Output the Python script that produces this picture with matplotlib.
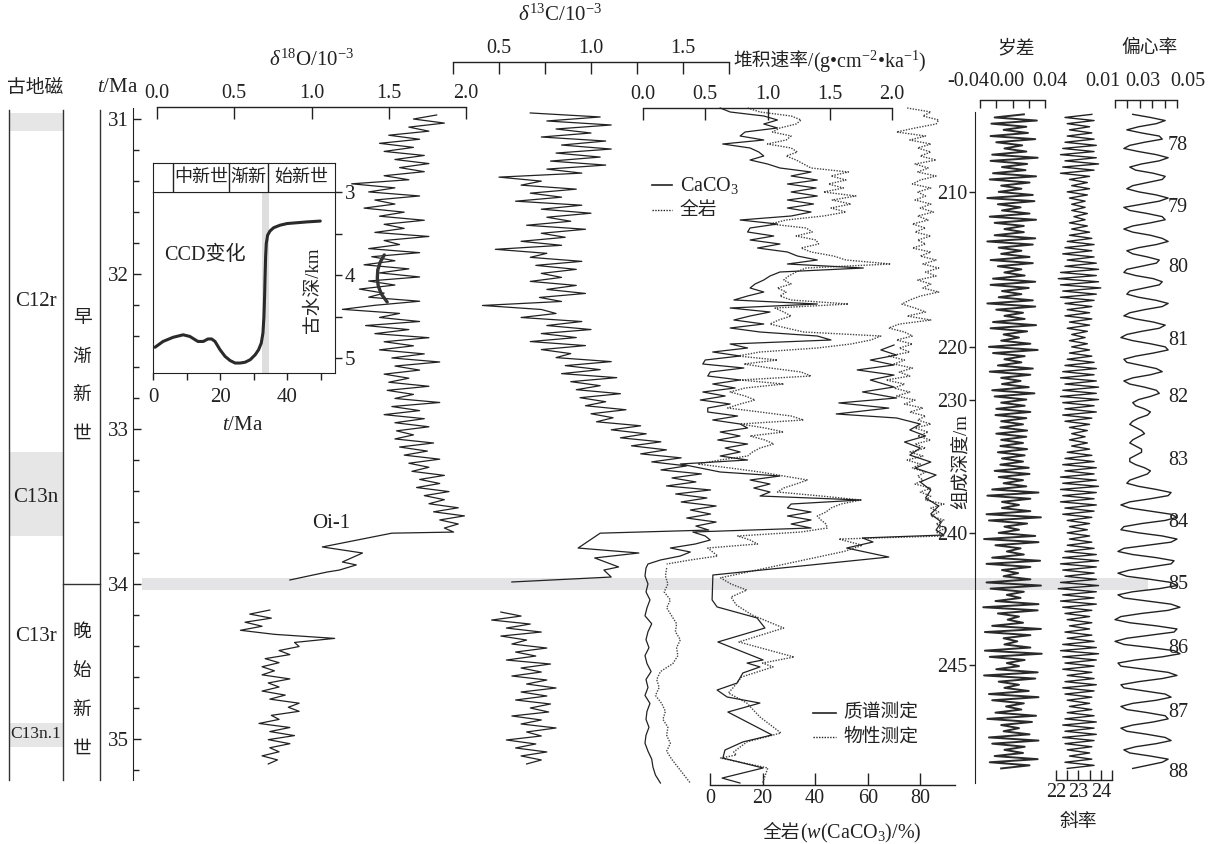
import numpy as np
import matplotlib.pyplot as plt
from matplotlib.lines import Line2D
from matplotlib.patches import Rectangle
from matplotlib.ticker import MultipleLocator

plt.rcParams['font.family'] = ['Liberation Serif', 'Noto Sans CJK SC']
plt.rcParams['mathtext.fontset'] = 'custom'
plt.rcParams['mathtext.rm'] = 'Liberation Serif'
plt.rcParams['mathtext.it'] = 'Liberation Serif:italic'
plt.rcParams['mathtext.bf'] = 'Liberation Serif:bold'
for k in ['text.color', 'axes.edgecolor', 'xtick.color', 'ytick.color']:
    plt.rcParams[k] = '#222222'

#%% DATA

# d18O (10^-3), Oligocene part, regular sampling + Oi-1 step, late Eocene part
d18o_top = [1.81,1.66,1.86,1.63,1.76,1.50,1.70,1.44,1.66,1.47,1.73,1.54,1.76,1.57,1.73,1.47,1.63,1.26,
            1.54,1.37,1.70,1.41,1.54,1.34,1.60,1.44,1.73,1.47,1.60,1.41,1.76,1.47,1.57,1.37,1.70,1.39,
            1.54,1.34,1.63,1.44,1.70,1.37,1.54,1.31,1.47,1.37,1.70,1.41,1.20,1.57,1.44,1.70,1.35,1.63,
            1.41,1.76,1.47,1.66,1.44,1.73,1.52,1.83,1.54,1.70,1.47,1.63,1.50,1.76,1.49,1.66,1.54,1.83,
            1.52,1.70,1.47,1.73,1.54,1.76,1.55,1.66,1.54,1.79,1.57,1.75,1.60,1.83,1.63,1.76,1.65,1.86,
            1.70,1.83,1.68,1.89,1.73,1.86,1.76,1.95,1.79,1.99,1.83,1.95,1.86,1.92]
d18o_top_age = (30.974, 33.665)
d18o_oi1_t = [33.672, 33.761, 33.80, 33.858, 33.877, 33.91, 33.923, 33.974]
d18o_oi1 = [1.52, 1.07, 1.33, 1.20, 1.29, 1.18, 1.10, 0.86]
d18o_low = [0.73,0.60,0.74,0.57,0.68,0.54,0.76,1.15,0.89,0.92,0.79,0.86,0.70,0.79,0.68,0.76,0.68,0.86,
            0.72,0.79,0.68,0.83,0.73,0.92,0.85,0.92,0.74,0.79,0.66,0.86,0.73,0.89,0.72,0.86,0.73,0.79,
            0.68,0.78,0.72]
d18o_low_age = (34.168, 35.161)

# d13C (10^-3)
d13c_top = [0.67,1.05,0.76,1.11,0.81,1.00,0.73,1.08,0.84,1.11,0.81,1.05,0.78,1.08,0.76,0.95,0.50,0.73,
            0.62,0.92,0.67,0.84,0.59,0.95,0.73,1.00,0.76,0.89,0.65,0.97,0.73,0.86,0.62,0.84,0.48,0.76,
            0.67,0.95,0.70,0.92,0.73,0.84,0.67,0.92,0.76,0.97,0.72,0.84,0.41,0.73,0.81,0.62,0.95,0.76,
            1.00,0.73,0.92,0.67,0.97,0.73,0.89,0.81,1.11,0.86,1.05,0.84,1.14,0.89,1.05,0.92,1.16,0.94,
            1.08,0.97,1.19,1.00,1.12,1.03,1.27,1.11,1.30,1.16,1.38,1.22,1.41,1.27,1.49,1.33,1.52,1.38,
            1.60,1.44,1.57,1.41,1.65,1.46,1.63,1.49,1.68,1.54,1.65,1.52,1.68,1.57,1.64]
d13c_top_age = (30.961, 33.652)
d13c_oi1_t = [33.672, 33.768, 33.80, 33.832, 33.89, 33.91, 33.955, 33.987]
d13c_oi1 = [1.05, 0.93, 1.26, 1.02, 1.15, 1.07, 1.11, 0.57]
d13c_low = [0.51,0.62,0.46,0.67,0.54,0.73,0.51,0.65,0.57,0.76,0.59,0.70,0.54,0.78,0.62,0.73,0.57,0.76,
            0.65,0.81,0.62,0.76,0.59,0.78,0.67,0.77,0.57,0.73,0.62,0.81,0.65,0.73,0.54,0.70,0.59,0.76,
            0.62,0.73,0.65]
d13c_low_age = (34.181, 35.161)

# mass accumulation rate (g cm-2 ka-1): CaCO3 and bulk
mar_caco3_top = [0.62,0.70,0.97,1.08,0.97,1.08,0.82,0.78,0.97,0.64,0.86,0.93,0.97,0.86,1.00,1.10,1.35,1.19,
                 1.40,1.16,1.39,1.19,1.40,1.16,1.37,1.16,1.35,1.19,0.78,1.08,0.86,0.84,1.05,0.86,1.10,0.92,
                 1.16,1.24,1.40,1.16,1.77,1.10,1.02,0.97,0.90,0.86,0.97,0.84,0.73,1.40,0.70,1.02,0.86,0.73,
                 0.97,0.70,0.94,1.40,1.51,0.70,0.84,0.56,0.78,0.50,0.48,0.81,0.54,0.52,0.78,0.56,0.74,0.48,
                 0.66,0.46,0.70,0.52,0.52,0.76,0.56,0.78,0.84,0.62,0.78,0.60,0.84,0.66,0.78,0.62,0.84,0.30,
                 0.46,0.62,1.10,0.86,1.02,0.89,1.02,0.94,1.75,1.19,1.16,1.35,1.16,1.35,1.19,1.35,0.40,0.50,
                 0.54,0.42,0.22,0.38,0.30,0.14,0.04]
mar_bulk_top = [0.84,0.94,1.19,1.27,1.23,1.10,1.04,1.19,1.15,1.00,1.19,1.24,1.15,1.23,1.29,1.35,1.65,1.51,
                1.63,1.49,1.61,1.45,1.71,1.52,1.67,1.51,1.63,1.45,1.15,1.02,1.31,1.36,1.23,1.39,1.41,1.27,
                1.35,1.53,1.63,1.99,1.31,1.23,1.17,1.13,1.19,1.08,1.15,1.10,1.19,1.65,1.06,1.13,1.19,1.09,
                1.02,1.15,1.29,1.91,1.83,1.67,1.40,0.94,0.76,1.08,0.81,1.02,1.27,1.35,0.78,1.13,0.82,0.70,
                0.82,0.90,0.78,0.68,0.94,1.19,1.29,0.78,0.98,1.13,0.86,0.98,1.05,0.94,0.88,0.84,0.62,0.44,
                0.70,0.94,1.13,1.32,1.23,1.13,1.08,1.43,1.75,1.59,1.51,1.47,1.40,1.43,1.47,1.48,1.27,0.76,
                0.86,0.92,0.52,0.56,0.60,0.38,0.19]
mar_top_age = (30.929, 33.871)
mar_caco3_low = [0.024,0.016,0.04,0.024,0.056,0.032,0.016,0.07,0.04,0.024,0.048,0.016,0.032,0.065,0.024,
                 0.04,0.016,0.056,0.032,0.024,0.048,0.024,0.016,0.04,0.07,0.08,0.10,0.14]
mar_bulk_low = [0.19,0.18,0.20,0.17,0.22,0.19,0.23,0.27,0.26,0.30,0.27,0.28,0.24,0.14,0.11,0.13,0.10,0.15,
                0.18,0.16,0.20,0.19,0.22,0.19,0.23,0.28,0.33,0.38]
mar_low_age = (33.897, 35.284)

# bulk CaCO3 content (%): physical-property estimate (dotted) and mass-spec (solid)
caco3_phys_top = [75,84,81,87,86,78,71,82,76,84,79,84,80,86,78,83,79,86,80,77,84,79,82,78,84,80,85,79,83,77,
                  82,78,84,79,82,77,84,80,86,81,87,82,86,79,84,81,87,80,76,73,78,82,75,84,72,68,74,77,71,77,
                  72,76,68,74,70,77,72,76,67,74,70,76,71,78,74,81,76,82,79,84,78,83,79,84,78,82,76,81,75,80,
                  77,82,79,81,78,84,80,84,82,89,84,87,84,89,86,90,86]
caco3_phys_top_age = (30.929, 33.665)
caco3_phys_t = [33.69,33.71,33.75,33.79,33.96,34.00,34.039,34.084,34.135,34.20,34.284,34.374,34.471,34.51,
                34.535,34.60,34.665,34.703,34.768,34.858,34.961,35.019,35.084,35.103,35.123,35.187,35.284]
caco3_phys = [89,49,58,51,4,8,14,8,10,16,28,11,32,20,24,12,9,7,14,19,27,14,9,10,4,22,20]
caco3_ms_t = [32.458,32.490,32.523,32.555,32.587,32.619,32.652,32.684,32.729,32.761,32.800,32.832,32.865,
              32.903,32.929,32.968,33.006,33.045,33.084,33.123,33.168,33.213,33.252,33.297,33.342,33.394,
              33.445,33.497,33.548,33.600,33.652,33.684,33.703,33.729,33.768,33.826,33.942,34.103,34.148,
              34.219,34.284,34.374,34.490,34.510,34.535,34.574,34.639,34.684,34.729,34.768,34.826,34.974,
              35.019,35.071,35.123,35.187,35.252,35.284]
caco3_ms = [70,65,71,61,70,56,70,61,70,58,71,49,68,48,71,80,76,82,74,80,76,84,78,86,80,84,82,87,84,88,
            86,89,58,62,52,68,1.1,0.8,2.7,17.9,20.9,3.0,20.2,14.1,19.0,12.5,10.3,2.7,6.5,19.0,6.8,23.6,
            12.5,5.7,4.9,20.2,4.6,11.4]

# orbital solutions, sampled every 20 ka from 30.97 Ma
orb_t0, orb_dt = 30.97, 0.02
prec_milli = [14,-22,30,-26,17,-11,19,-27,28,-20,12,-10,17,-25,31,-27,18,-13,16,-24,29,-28,21,-14,11,
              -17,25,-31,27,-18,10,-13,21,-28,29,-22,14,-10,14,-22,28,-31,25,-17,11,-14,21,-27,25,-18,
              11,-10,15,-24,28,-27,20,-13,11,-17,25,-31,28,-20,13,-10,15,-24,29,-27,18,-11,8,-14,22,
              -29,31,-24,15,-10,11,-18,25,-28,22,-14,10,-13,20,-25,27,-22,17,-14,15,-20,22,-21,17,-14,
              13,-15,18,-20,17,-14,13,-15,18,-18,15,-13,13,-15,20,-22,21,-17,13,-11,17,-25,32,-31,22,
              -13,8,-13,22,-32,35,-29,18,-10,8,-17,28,-35,32,-21,10,-7,14,-25,34,-32,22,-13,7,-11,
              22,-32,35,-27,14,-7,10,-21,32,-36,31,-18,8,-6,13,-25,35,-34,22,-11,6,-10,22,-34,36,
              -28,15,-7,8,-20,31,-35,28,-17,8,-10,20,-29,32,-25,14,-8,11,-21,29,-31,24,-14,8,-11,
              21,-29,32,-25,15,-10,13,-22,31,-28,21,-14]
obl_x10 = [236,224,237,225,235,226,236,225,237,224,238,223,237,222,238,224,239,223,237,222,
           235,226,234,227,235,225,234,226,233,227,233,227,234,228,233,226,234,227,235,226,
           236,225,237,224,236,223,237,225,238,224,239,222,238,221,239,222,240,223,238,222,
           237,224,236,225,235,224,236,226,235,225,234,227,233,226,234,227,235,226,236,225,
           237,224,238,223,237,222,238,224,239,223,238,222,239,223,237,224,238,223,236,224,
           235,226,234,227,233,226,234,227,235,225,236,224,237,223,238,224,237,222,238,223,
           239,222,238,223,237,222,238,224,237,223,236,225,235,226,234,225,235,226,236,225,
           237,224,238,223,239,222,238,223,237,224,238,222,239,221,238,223,237,222,238,223,
           236,224,235,225,236,226,235,224,236,225,237,223,238,222,239,223,238,224,237,223,
           236,225,237,224,238,223,237,224,236,225,235,226,236,225,237,224,238,223,237,224,
           238,223,237,224,236,225,235,226,236,224,237,225]
ecc_milli = [20,32,42,36,24,16,26,38,40,28,18,14,24,36,44,38,26,18,22,34,42,40,30,20,16,
             24,36,44,38,26,14,18,30,40,42,32,20,14,20,32,40,44,36,24,16,20,30,38,36,26,
             16,14,22,34,40,38,28,18,16,24,36,44,40,28,18,14,22,34,42,38,26,16,12,20,32,
             42,44,34,22,14,16,26,36,40,32,20,14,18,28,36,38,32,24,20,22,28,32,30,24,20,
             18,22,26,28,24,20,18,22,26,26,22,18,18,22,28,32,30,24,18,16,24,36,46,44,32,
             18,12,18,32,46,50,42,26,14,12,24,40,50,46,30,14,10,20,36,48,46,32,18,10,16,
             32,46,50,38,20,10,14,30,46,52,44,26,12,8,18,36,50,48,32,16,8,14,32,48,52,
             40,22,10,12,28,44,50,40,24,12,14,28,42,46,36,20,12,16,30,42,44,34,20,12,16,
             30,42,46,36,22,14,18,32,44,40,30,20]
ecc_cycle = [78, 79, 80, 81, 82, 83, 84, 85, 86, 87, 88]
ecc_cycle_age = [31.168, 31.568, 31.961, 32.426, 32.794, 33.20, 33.606, 34.006, 34.413, 34.832, 35.213]

# composite depth (m) tie points on the age axis
depth_m = [210, 220, 230, 240, 245]
depth_age = [31.471, 32.471, 32.813, 33.671, 34.523]

# magnetostratigraphy / epochs
chron_gray = [(30.96, 31.08), (33.15, 33.69), (34.90, 35.05)]
chron_names = ['C12r', 'C13n', 'C13r', 'C13n.1']
chron_label_age = [32.18, 33.44, 34.34, 34.97]
epoch_names = ['早渐新世', '晚始新世']
epoch_center_age = [32.66, 34.69]
eo_boundary = 34.0
oi1_band = (33.96, 34.04)

# inset: Cenozoic CCD history
ccd_t = [0.6, 3, 6, 9, 11, 13.4, 15, 16.4, 17.5, 18.5, 20, 21.5, 23, 24.5, 26, 27.5, 29, 30.5, 31.5,
         32.3, 32.8, 33.1, 33.3, 33.45, 33.6, 33.8, 34.2, 34.9, 36, 37.9, 40, 43, 46, 49.9]
ccd_depth = [4.87, 4.80, 4.75, 4.72, 4.74, 4.80, 4.80, 4.77, 4.77, 4.80, 4.90, 4.98, 5.03, 5.06, 5.06,
             5.05, 5.02, 4.96, 4.90, 4.82, 4.70, 4.50, 4.25, 4.00, 3.78, 3.62, 3.52, 3.47, 3.43, 3.40,
             3.38, 3.37, 3.36, 3.35]
inset_epoch_bounds = [5.9, 22.7, 34.3]
inset_epoch_names = ['中新世', '渐新', '始新世']
inset_epoch_mid = [14.3, 28.5, 44.3]
inset_band = (32.5, 34.6)
arc_d18o = [1.471, 1.445, 1.429, 1.426, 1.432, 1.452, 1.490]
arc_age = [31.877, 31.923, 31.974, 32.026, 32.077, 32.129, 32.181]

#%% LAYOUT HELPERS

W, H = 1223, 844
fig = plt.figure(figsize=(W / 100, H / 100), dpi=100)
INK = '#222222'
LW = 0.9


def tpx(y):
    # age on the shared vertical axis at pixel row y
    return 31 + (y - 119) / 155.0


def add_ax(x0, y0, x1, y1):
    ax = fig.add_axes([x0 / W, 1 - y1 / H, (x1 - x0) / W, (y1 - y0) / H])
    ax.set_ylim(tpx(y1), tpx(y0))
    ax.patch.set_visible(False)
    for s in ax.spines.values():
        s.set_visible(False)
    ax.set_xticks([])
    ax.set_yticks([])
    return ax


def ftext(x, y, s, **kw):
    kw.setdefault('ha', 'center')
    kw.setdefault('va', 'center')
    return fig.text(x / W, 1 - y / H, s, **kw)


def fline(x0, x1, y, **kw):
    fig.add_artist(Line2D([x0 / W, x1 / W], [1 - y / H, 1 - y / H], color=INK, **kw))


def bracket(ax, side, ticks, labels=None, length=8.5, size=14.5, pad=3):
    ax.spines[side].set_visible(True)
    ax.spines[side].set_linewidth(1.0)
    ax.xaxis.set_ticks_position(side)
    ax.set_xticks(ticks)
    show = labels is not None
    if show:
        ax.set_xticklabels(labels)
    ax.tick_params(axis='x', direction='in', length=length, width=1.0, pad=pad, labelsize=size,
                   top=(side == 'top'), bottom=(side == 'bottom'),
                   labeltop=(show and side == 'top'), labelbottom=(show and side == 'bottom'))


def series(vals, age_range):
    return np.linspace(age_range[0], age_range[1], len(vals))


def curve(ax, x, t, dotted=False, lw=LW, color=INK):
    if dotted:
        ax.plot(x, t, color='#444444', lw=1.0, ls=(0, (1, 1)), clip_on=False)
    else:
        ax.plot(x, t, color=color, lw=lw, clip_on=False)


#%% BACKGROUND: columns, bands

ax_bg = add_ax(0, 0, W, H)
ax_bg.set_xlim(0, W)
ax_bg.set_zorder(-1)
ax_bg.fill_between([142, 1148], oi1_band[0], oi1_band[1], color='#e4e4e6', lw=0)
for t0, t1 in chron_gray:
    ax_bg.add_patch(Rectangle((9, t0), 54, t1 - t0, color='#e6e6e6', lw=0))
for xc in [9, 63, 100]:
    ax_bg.plot([xc, xc], [tpx(110), tpx(780)], color='#333333', lw=1.0)
ax_bg.plot([63, 100], [eo_boundary, eo_boundary], color='#333333', lw=1.0)
for name, age in zip(chron_names, chron_label_age):
    ax_bg.text(36, age, name, ha='center', va='center', fontsize=12.5 if '.' in name else 15)
for name, age in zip(epoch_names, epoch_center_age):
    for i, ch in enumerate(name):
        ax_bg.text(82, age + (i - 1.5) * 0.25, ch, ha='center', va='center', fontsize=13.5)

ftext(35, 88, '古地磁', fontsize=13.5)
ftext(118, 88, r'$t$/Ma', fontsize=15)

ax_t = add_ax(133, 108, 150, 780)
ax_t.spines['left'].set_visible(True)
ax_t.yaxis.set_major_locator(MultipleLocator(1))
ax_t.yaxis.set_minor_locator(MultipleLocator(0.2))
ax_t.tick_params(axis='y', which='major', direction='in', length=5.5, width=1, pad=3, labelsize=15)
ax_t.tick_params(axis='y', which='minor', direction='in', length=4, width=1)

#%% d18O

ax18 = add_ax(157, 107, 466, 790)
ax18.set_xlim(0, 2.0)
bracket(ax18, 'top', [0, 0.5, 1.0, 1.5, 2.0], ['0.0', '0.5', '1.0', '1.5', '2.0'])
curve(ax18, np.r_[d18o_top, d18o_oi1], np.r_[series(d18o_top, d18o_top_age), d18o_oi1_t])
curve(ax18, d18o_low, series(d18o_low, d18o_low_age))
ax18.plot(arc_d18o, arc_age, color='#333333', lw=2.4, clip_on=False, solid_capstyle='round')
ftext(312, 60, r'$\delta^{18}$O/10$^{-3}$', fontsize=15)
ftext(331, 523, 'Oi-1', fontsize=15)

#%% d13C

ax13 = add_ax(453, 62, 729, 790)
ax13.set_xlim(0.25, 1.75)
bracket(ax13, 'top', [0.25, 0.5, 0.75, 1.0, 1.25, 1.5, 1.75], ['', '0.5', '', '1.0', '', '1.5', ''])
curve(ax13, np.r_[d13c_top, d13c_oi1], np.r_[series(d13c_top, d13c_top_age), d13c_oi1_t])
curve(ax13, d13c_low, series(d13c_low, d13c_low_age))
ftext(560, 15, r'$\delta^{13}$C/10$^{-3}$', fontsize=15)

#%% accumulation rate

axr = add_ax(643, 108, 892, 790)
axr.set_xlim(0, 2.0)
bracket(axr, 'top', [0, 0.5, 1.0, 1.5, 2.0], ['0.0', '0.5', '1.0', '1.5', '2.0'])
curve(axr, mar_bulk_top, series(mar_bulk_top, mar_top_age), dotted=True)
curve(axr, mar_bulk_low, series(mar_bulk_low, mar_low_age), dotted=True)
curve(axr, np.r_[mar_caco3_top, mar_caco3_low],
      np.r_[series(mar_caco3_top, mar_top_age), series(mar_caco3_low, mar_low_age)])
t1 = ftext(733, 62, '堆积速率/', ha='left', fontsize=13.5)
ax_bg.annotate(r'(g•cm$^{-2}$•ka$^{-1}$)', xy=(1, 0.5), xycoords=t1, ha='left', va='center', fontsize=14.5)

fline(652, 672, 185, lw=1.2)
ftext(680, 185, 'CaCO$_3$', ha='left', fontsize=14.5)
fline(652, 672, 210, lw=1.0, ls=(0, (1, 1)))
ftext(680, 210, '全岩', ha='left', fontsize=13.5)

#%% CaCO3 content

axw = add_ax(710, 100, 955, 785)
axw.set_xlim(0, 93.2)
bracket(axw, 'bottom', [0, 20, 40, 60, 80], ['0', '20', '40', '60', '80'], length=9)
curve(axw, np.r_[caco3_phys_top, caco3_phys], np.r_[series(caco3_phys_top, caco3_phys_top_age), caco3_phys_t],
      dotted=True)
curve(axw, caco3_ms, caco3_ms_t)
t2 = ftext(763, 833, '全岩', ha='left', fontsize=13.5)
ax_bg.annotate(r'($w$(CaCO$_3$)/%)', xy=(1, 0.5), xycoords=t2, ha='left', va='center', fontsize=14.5)

fline(813, 836, 713, lw=1.2)
ftext(843, 713, '质谱测定', ha='left', fontsize=13.5)
fline(813, 836, 737, lw=1.0, ls=(0, (1, 1)))
ftext(843, 737, '物性测定', ha='left', fontsize=13.5)

#%% depth axis

axd = add_ax(975, 112, 985, 783)
axd.spines['left'].set_visible(True)
axd.set_yticks(depth_age)
axd.set_yticklabels([str(d) for d in depth_m])
axd.tick_params(axis='y', direction='out', length=4.5, width=1, pad=1, labelsize=14.5)
ftext(962, 462, '组成深度/m', rotation=90, fontsize=13.5)

#%% orbital columns

orb_t = orb_t0 + orb_dt * np.arange(len(prec_milli))
axp = add_ax(980, 100, 1045, 790)
axp.set_xlim(-0.04, 0.04)
bracket(axp, 'top', [-0.04, -0.02, 0, 0.02, 0.04], length=6)
curve(axp, np.array(prec_milli) / 1000.0, orb_t, lw=1.4, color='#2a2a2a')
ftext(1016, 48, '岁差', fontsize=13.5)
for x, s in zip([968, 1007, 1050], ['-0.04', '0.00', '0.04']):
    ftext(x, 82, s, fontsize=14.5)

axo = add_ax(1056, 100, 1112, 780)
axo.set_xlim(22, 24.5)
bracket(axo, 'bottom', [22, 22.5, 23, 23.5, 24, 24.5], ['22', '', '23', '', '24', ''], length=7, pad=2)
curve(axo, np.array(obl_x10) / 10.0, orb_t0 + orb_dt * np.arange(len(obl_x10)), lw=1.0)
ftext(1078, 822, '斜率', fontsize=13.5)

axe = add_ax(1115, 100, 1177, 790)
axe.set_xlim(0.008, 0.050)
bracket(axe, 'top', [0.008, 0.0164, 0.0248, 0.0332, 0.0416, 0.050], length=6)
curve(axe, np.array(ecc_milli) / 1000.0, orb_t0 + orb_dt * np.arange(len(ecc_milli)), lw=1.0)
for n, age in zip(ecc_cycle, ecc_cycle_age):
    axe.text(0.0507, age, str(n), ha='center', va='center', fontsize=14.5)
ftext(1150, 48, '偏心率', fontsize=13.5)
for x, s in zip([1103, 1143, 1188], ['0.01', '0.03', '0.05']):
    ftext(x, 82, s, fontsize=14.5)

#%% inset: CCD

ax_in = fig.add_axes([153 / W, 1 - 373 / H, (335 - 153) / W, (373 - 192) / H])
ax_in.set_xlim(0, 54.3)
ax_in.set_ylim(5.18, 3.0)
ax_in.axvspan(inset_band[0], inset_band[1], color='#dedede', lw=0)
ax_in.plot(ccd_t, ccd_depth, color='#2a2a2a', lw=2.2, solid_capstyle='round', solid_joinstyle='round')
ax_in.set_xticks([0, 10, 20, 30, 40, 50])
ax_in.set_xticklabels(['0', '', '20', '', '40', ''])
ax_in.yaxis.tick_right()
ax_in.set_yticks([3, 3.5, 4, 4.5, 5])
ax_in.set_yticklabels(['3', '', '4', '', '5'])
ax_in.tick_params(axis='x', direction='out', length=5, width=1, pad=6, labelsize=15)
ax_in.tick_params(axis='y', direction='out', length=5, width=1, pad=2, labelsize=15)
ftext(243, 425, r'$t$/Ma', fontsize=15)
ftext(205, 255, 'CCD变化', fontsize=14.5)
ftext(313, 290, '古水深/km', rotation=90, fontsize=13.5)

ax_hd = fig.add_axes([153 / W, 1 - 192 / H, (335 - 153) / W, (192 - 163) / H])
ax_hd.set_xlim(0, 54.3)
ax_hd.set_xticks([])
ax_hd.set_yticks([])
for b in inset_epoch_bounds:
    ax_hd.axvline(b, color=INK, lw=1.0)
for name, mid in zip(inset_epoch_names, inset_epoch_mid):
    ax_hd.text(mid, 0.5, name, ha='center', va='center', fontsize=13)

fig.savefig('out.png', dpi=100)
